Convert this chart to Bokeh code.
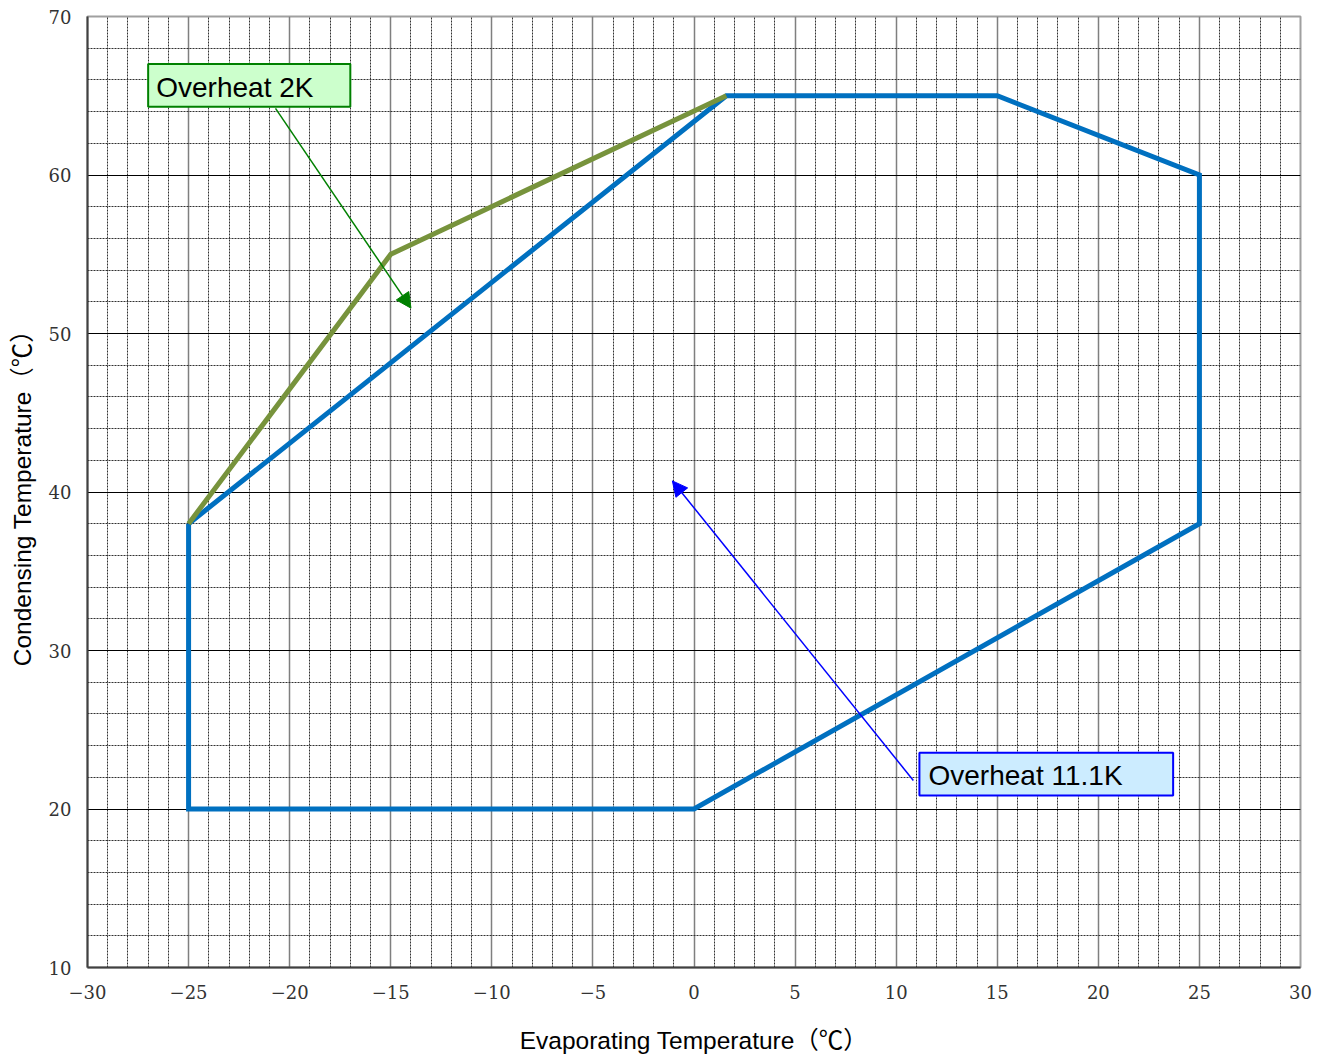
from bokeh.plotting import figure
from bokeh.models import (SingleIntervalTicker, Arrow, NormalHead, Label,
                          BoxAnnotation, Range1d)
from bokeh.embed import file_html
from bokeh.resources import INLINE

# ---- data ----
blue_x = [-25, 1.6, 15, 25, 25, 0, -25, -25]
blue_y = [38, 65, 65, 60, 38, 20, 20, 38]
green_x = [-25, -15, 1.6]
green_y = [38, 55, 65]

x_ticks = [-30, -25, -20, -15, -10, -5, 0, 5, 10, 15, 20, 25, 30]
x_tick_labels = ["−30", "−25", "−20", "−15", "−10", "−5", "0", "5", "10", "15", "20", "25", "30"]
y_ticks = [10, 20, 30, 40, 50, 60, 70]
y_tick_labels = ["10", "20", "30", "40", "50", "60", "70"]

# annotations: box (left, right, bottom, top), text anchor, arrow (start -> end)
green_note = "Overheat 2K"
green_box = [-27.0, -17.0, 64.3, 67.0]
green_text_pos = [-26.6, 65.55]
green_arrow = [-20.7, 64.2, -14.0, 51.6]

blue_note = "Overheat 11.1K"
blue_box = [11.15, 23.7, 20.85, 23.55]
blue_text_pos = [11.6, 22.1]
blue_arrow = [10.85, 21.8, -1.07, 40.7]

p = figure(output_backend="svg", toolbar_location=None,
           frame_width=1213, frame_height=951,
           min_border_left=87, min_border_right=18,
           min_border_top=16, min_border_bottom=85,
           x_range=Range1d(-30, 30), y_range=Range1d(10, 70),
           background_fill_color="white", border_fill_color="white")

p.outline_line_color = "#a0a0a0"
p.outline_line_width = 2

# axes
p.xaxis.ticker = SingleIntervalTicker(interval=5, num_minor_ticks=5)
p.yaxis.ticker = SingleIntervalTicker(interval=10, num_minor_ticks=5)
p.xaxis.major_label_overrides = dict(zip(x_ticks, x_tick_labels))
p.yaxis.major_label_overrides = dict(zip(y_ticks, y_tick_labels))
for ax in (p.xaxis, p.yaxis):
    ax.axis_line_color = "#404040"
    ax.axis_line_width = 2
    ax.major_tick_line_color = None
    ax.minor_tick_line_color = None
    ax.major_tick_out = 0
    ax.major_tick_in = 0
    ax.minor_tick_out = 0
    ax.major_label_text_font = "DejaVu Serif"
    ax.major_label_text_font_size = "18px"
    ax.major_label_text_color = "#333333"
    ax.axis_label_text_font = "Liberation Sans, Noto Sans CJK JP"
    ax.axis_label_text_font_size = "24.5px"
    ax.axis_label_text_font_style = "normal"
    ax.axis_label_text_color = "black"
p.xaxis.major_label_standoff = 17
p.yaxis.major_label_standoff = 16
p.xaxis.axis_label = "Evaporating Temperature（℃）"
p.yaxis.axis_label = "Condensing Temperature（℃）"
p.xaxis.axis_label_standoff = 25
p.yaxis.axis_label_standoff = 10

# grids
p.xgrid.grid_line_color = "#7f7f7f"
p.xgrid.grid_line_width = 1.5
p.xgrid.minor_grid_line_color = "#303030"
p.xgrid.minor_grid_line_dash = "2 1"
p.xgrid.minor_grid_line_width = 1
p.ygrid.grid_line_color = "black"
p.ygrid.grid_line_width = 1
p.ygrid.minor_grid_line_color = "#303030"
p.ygrid.minor_grid_line_dash = "2 1"
p.ygrid.minor_grid_line_width = 1

# envelopes
p.line(blue_x, blue_y, line_color="#0070C0", line_width=5, line_join="miter")
p.line(green_x, green_y, line_color="#77933C", line_width=5, line_join="miter")

# annotations
p.add_layout(BoxAnnotation(left=green_box[0], right=green_box[1],
                           bottom=green_box[2], top=green_box[3],
                           fill_color="#CCFFCC", fill_alpha=1,
                           line_color="#008000", line_alpha=1, line_width=2))
p.add_layout(Label(x=green_text_pos[0], y=green_text_pos[1], text=green_note,
                   text_font="Liberation Sans", text_font_size="28px",
                   text_baseline="middle", text_align="left", text_color="black"))
p.add_layout(Arrow(x_start=green_arrow[0], y_start=green_arrow[1],
                   x_end=green_arrow[2], y_end=green_arrow[3],
                   line_color="#008000", line_width=1.5,
                   end=NormalHead(size=15, fill_color="#008000", line_color="#008000")))

p.add_layout(BoxAnnotation(left=blue_box[0], right=blue_box[1],
                           bottom=blue_box[2], top=blue_box[3],
                           fill_color="#CCECFF", fill_alpha=1,
                           line_color="#0000FF", line_alpha=1, line_width=2))
p.add_layout(Label(x=blue_text_pos[0], y=blue_text_pos[1], text=blue_note,
                   text_font="Liberation Sans", text_font_size="28px",
                   text_baseline="middle", text_align="left", text_color="black"))
p.add_layout(Arrow(x_start=blue_arrow[0], y_start=blue_arrow[1],
                   x_end=blue_arrow[2], y_end=blue_arrow[3],
                   line_color="#0000FF", line_width=1.5,
                   end=NormalHead(size=15, fill_color="#0000FF", line_color="#0000FF")))

open("out.html", "w").write(file_html(p, INLINE))
